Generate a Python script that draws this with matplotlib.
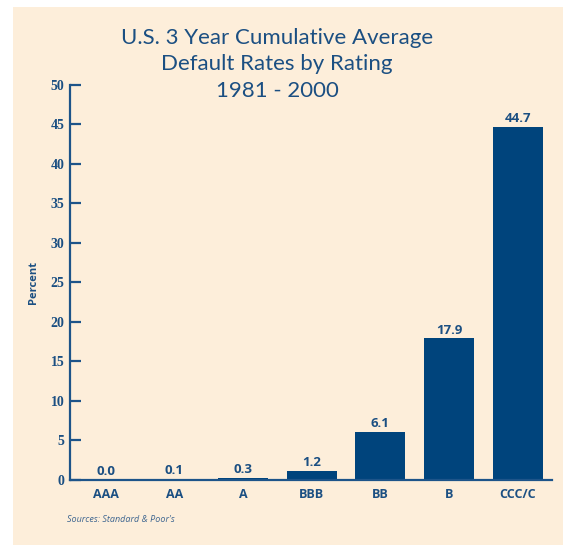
import matplotlib
matplotlib.use("Agg")
import matplotlib.pyplot as plt
from matplotlib.patches import Rectangle

categories = ["AAA", "AA", "A", "BBB", "BB", "B", "CCC/C"]
values = [0.0, 0.1, 0.3, 1.2, 6.1, 17.9, 44.7]
value_labels = ["0.0", "0.1", "0.3", "1.2", "6.1", "17.9", "44.7"]
yticks = [0, 5, 10, 15, 20, 25, 30, 35, 40, 45, 50]

bg = "#FDEEDA"
bar_color = "#00447C"
axis_color = "#1D5489"
text_color = "#1B4F82"

fig = plt.figure(figsize=(5.63, 5.45), dpi=100, facecolor="white")
fig.patches.append(Rectangle((13/563, 0), 1 - 13/563, 538/545, transform=fig.transFigure,
                             facecolor=bg, edgecolor="none", zorder=-10))

ax = fig.add_axes([70/563, 65/545, (552-70)/563, (480-84.7)/545])
ax.set_zorder(2)
ax.set_facecolor("none")
x = list(range(len(categories)))
ax.bar(x, values, width=0.73, color=bar_color, zorder=3)
ax.set_xlim(-0.52, 6.5)
ax.set_ylim(0, 50)

for s in ["top", "right"]:
    ax.spines[s].set_visible(False)
for s in ["left", "bottom"]:
    ax.spines[s].set_color(axis_color)
    ax.spines[s].set_linewidth(1.6)
    ax.spines[s].set_zorder(4)

ax.set_yticks(yticks)
ax.set_yticklabels([str(t) for t in yticks], family="Liberation Serif", fontweight="bold",
                   fontsize=10, color=text_color)
ax.tick_params(axis="y", direction="in", length=8, width=1.6, color=axis_color, pad=4)
ax.set_xticks(x)
ax.set_xticklabels(categories, family="Open Sans", fontweight="bold", fontsize=9, color=text_color)
ax.tick_params(axis="x", length=0, pad=6)

for xi, v, lab in zip(x, values, value_labels):
    ax.annotate(lab, (xi, v), xytext=(0, 6), textcoords="offset points", ha="center", va="center",
                family="Open Sans", fontweight="bold", fontsize=9.5, color=text_color)

ax.set_ylabel("Percent", family="Open Sans", fontweight="bold", fontsize=8, color=text_color, labelpad=8)

fig.text(277/563, 1 - 64.5/545, "U.S. 3 Year Cumulative Average\nDefault Rates by Rating\n1981 - 2000",
         ha="center", va="center", family="Lato", fontsize=16, color=text_color, linespacing=1.42)

fig.text(67/563, 1 - 520/545, "Sources: Standard & Poor's", ha="left", va="center",
         family="Open Sans", style="italic", fontsize=6.5, color="#3F6690")

fig.savefig("out.png", dpi=100, facecolor="white")
